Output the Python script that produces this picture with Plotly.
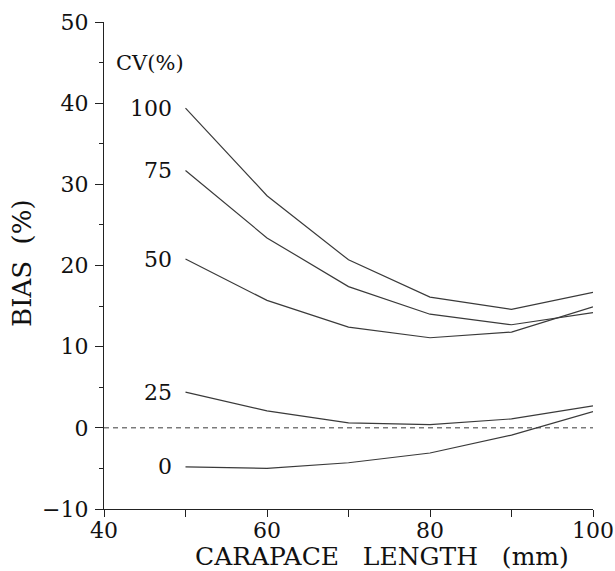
import plotly.graph_objects as go

length_mm = [50, 60, 70, 80, 90, 100]
cv_labels = ["100", "75", "50", "25", "0"]
bias_cv100 = [39.4, 28.6, 20.7, 16.1, 14.6, 16.7]
bias_cv75 = [31.7, 23.4, 17.4, 14.0, 12.7, 14.2]
bias_cv50 = [20.8, 15.7, 12.4, 11.1, 11.8, 14.9]
bias_cv25 = [4.4, 2.1, 0.6, 0.4, 1.1, 2.7]
bias_cv0 = [-4.8, -5.0, -4.3, -3.1, -0.9, 2.0]
series = [bias_cv100, bias_cv75, bias_cv50, bias_cv25, bias_cv0]

x_ticks = [40, 60, 80, 100]
y_ticks = [-10, 0, 10, 20, 30, 40, 50]

FONT = "DejaVu Serif"
LINE = "#3a3a3a"

fig = go.Figure()
for name, ys in zip(cv_labels, series):
    fig.add_trace(go.Scatter(x=length_mm, y=ys, mode="lines",
                             line=dict(color=LINE, width=1.2), name=name,
                             showlegend=False))
    fig.add_annotation(x=48.6, y=ys[0], xref="x", yref="y", text=name,
                       showarrow=False, xanchor="right", yanchor="middle",
                       font=dict(family=FONT, size=22, color="#111"))

# zero reference line
fig.add_trace(go.Scatter(x=[40, 100], y=[0, 0], mode="lines",
                         line=dict(color=LINE, width=1, dash="5px,4px"),
                         showlegend=False))

fig.add_annotation(x=41.2, y=45, xref="x", yref="y", text="CV(%)",
                   showarrow=False, xanchor="left", yanchor="middle",
                   font=dict(family=FONT, size=21, color="#111"))

# axis titles
fig.add_annotation(x=0.569, y=-0.097, xref="paper", yref="paper",
                   text="CARAPACE   LENGTH   (mm)", showarrow=False,
                   xanchor="center", yanchor="middle",
                   font=dict(family=FONT, size=25, color="#111"))
fig.add_annotation(x=-0.168, y=0.505, xref="paper", yref="paper",
                   text="BIAS  (%)", showarrow=False, textangle=-90,
                   xanchor="center", yanchor="middle",
                   font=dict(family=FONT, size=26, color="#111"))

fig.update_layout(
    width=615, height=571,
    margin=dict(l=104, r=22, t=22, b=62),
    paper_bgcolor="white", plot_bgcolor="white",
    font=dict(family=FONT, color="#111"),
)
fig.update_xaxes(range=[40, 100], tickvals=x_ticks, showline=True,
                 automargin=False,
                 linecolor="#222", linewidth=1.3, ticks="outside", ticklen=7,
                 tickcolor="#222", tickwidth=1.3, showgrid=False, zeroline=False,
                 tickfont=dict(family=FONT, size=22), ticklabelstandoff=-6,
                 minor=dict(dtick=10, tick0=40, ticks="outside", ticklen=7,
                            tickcolor="#222", tickwidth=1.3, showgrid=False))
fig.update_yaxes(range=[-10, 50], tickvals=y_ticks, showline=True,
                 automargin=False,
                 linecolor="#222", linewidth=1.3, ticks="outside", ticklen=8,
                 tickcolor="#222", tickwidth=1.3, showgrid=False, zeroline=False,
                 tickfont=dict(family=FONT, size=22), ticklabelstandoff=2,
                 minor=dict(dtick=5, tick0=-10, ticks="outside", ticklen=4,
                            tickcolor="#222", tickwidth=1.2, showgrid=False))

fig.write_html("out.html")
